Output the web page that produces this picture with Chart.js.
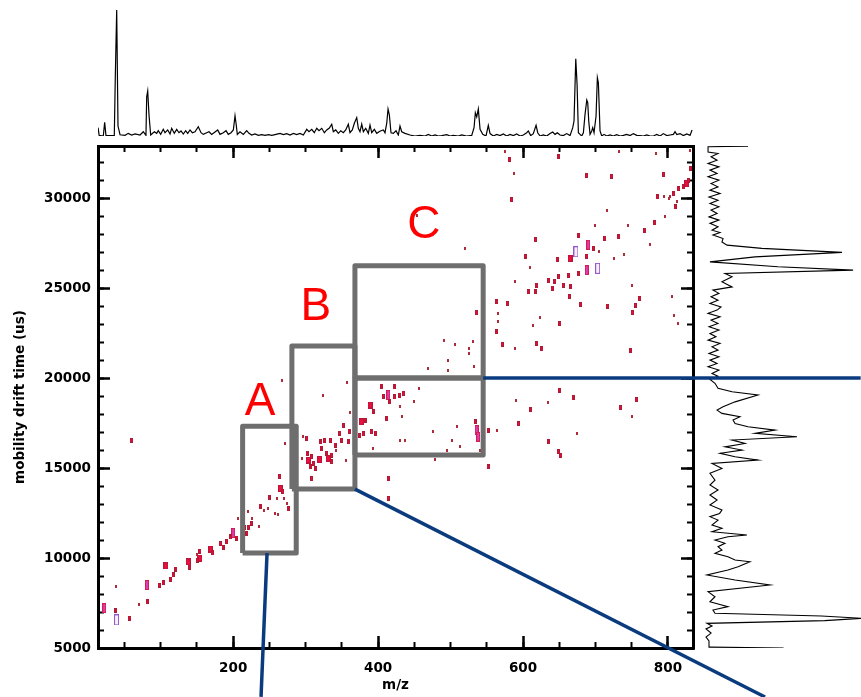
<!DOCTYPE html>
<html>
<head>
<meta charset="utf-8">
<script src="https://cdn.jsdelivr.net/npm/chart.js@4/dist/chart.umd.min.js"></script>
<style>
  html, body { margin: 0; padding: 0; background: #fff; }
  #wrap { position: relative; width: 861px; height: 697px; overflow: hidden; background: #fff; }
  canvas { position: absolute; top: 0; }
  #spectrum { left: 0; z-index: 1; }
  #mobilogram { left: 693px; z-index: 1; }
  #map { left: 0; z-index: 2; }
</style>
</head>
<body>
<div id="wrap">
  <canvas id="spectrum" width="861" height="146"></canvas>
  <canvas id="mobilogram" width="168" height="697"></canvas>
  <canvas id="map" width="861" height="697"></canvas>
</div>
<script>
// ---- axis ranges and ticks ---------------------------------------------------
const MZ_MIN = 13.4, MZ_MAX = 834.6;
const DT_MIN = 5000, DT_MAX = 32900;
const mzTicks = [200, 400, 600, 800];
const driftTicks = [5000, 10000, 15000, 20000, 25000, 30000];
const MZ_MINOR_STEP = 50, DT_MINOR_STEP = 1000;

// ---- 2D map: detected features [m/z, drift time (us)] by intensity class ----
const spotsWeak = [
  [38,8440],[70,7440],[150,10220],[206,12210],[221,12570],[226,12210],[235,11740],[242,12640],
  [248,12760],[258,12480],[262,12440],[272,16360],[270,13320],[274,13040],[267,19890],[324,19060],
  [357,19740],[260,13320],[295,15540],[342,16000],[356,15440],[361,18070],[296,16780],[430,18410],
  [449,18680],[456,19430],[433,17850],[393,16100],[430,16560],[437,16520],[476,17020],[495,16000],
  [502,16560],[509,17300],[513,16180],[564,17110],[540,16000],[479,15480],[454,29060],[520,27210],
  [491,22070],[506,21890],[531,22020],[525,21650],[525,21370],[497,21000],[497,20440],[469,20540],
  [533,20670],[575,32570],[587,31370],[732,32570],[784,32480],[831,32670],[803,30070],[794,30070],
  [812,29800],[801,29980],[716,29330],[796,28960],[745,28500],[699,28500],[775,27410],[739,26850],
  [725,26650],[705,27020],[610,26150],[750,25170],[805,24520],[809,23500],[814,23040],[589,25390],
  [566,23600],[566,23130],[614,22950],[623,23370],[589,21650],[635,18650],[590,18780],[675,16930],
  [751,17850]
];
const spotsMid = [
  [38,7070],[57,6650],[82,7560],[98,8500],[104,8630],[113,8780],[117,9060],[121,9390],[140,9500],
  [151,9890],[154,10390],[171,10280],[182,10810],[186,10610],[191,10910],[196,11170],[205,11110],
  [215,11720],[219,11370],[221,11720],[225,11940],[237,12890],[250,13390],[264,14530],[268,13680],
  [277,12760],[59,16560],[301,16650],[302,15820],[306,15070],[308,15630],[313,14980],[311,15260],
  [320,16460],[326,16560],[322,16100],[329,15820],[336,15720],[336,15350],[334,16560],[341,16280],
  [347,16930],[352,17390],[350,16560],[359,16460],[360,17020],[308,14430],[382,17670],[380,16930],
  [375,16830],[394,18130],[391,17020],[405,19520],[407,18960],[416,18680],[422,19520],[423,18960],
  [430,19060],[435,19150],[412,17760],[396,16930],[534,17570],[552,17110],[552,15070],[414,14430],
  [414,13320],[536,23630],[582,32150],[584,29930],[649,32300],[688,31280],[722,31220],[794,31330],
  [831,31650],[828,31000],[821,30630],[814,30540],[808,30260],[785,30070],[810,29520],[782,28630],
  [768,28220],[732,27850],[713,27760],[676,27950],[697,27210],[688,26740],[647,26600],[617,27710],
  [604,26780],[676,25820],[663,25720],[649,25630],[644,25350],[635,25440],[619,25170],[607,24800],
  [617,24800],[640,24980],[656,25170],[665,25070],[664,24520],[679,24110],[716,24000],[761,24430],
  [755,24060],[751,23630],[564,24240],[578,24150],[564,22610],[651,23040],[619,21930],[626,21650],
  [571,21890],[748,21520],[650,19330],[669,18930],[610,18280],[594,17480],[635,16460],[649,15910],
  [652,15720],[734,18370],[757,18820]
];
const spotsStrong = [
  [107,9560],[138,9780],[154,10000],[169,10500],[265,13860],[304,15440],[319,15480],[331,15540],
  [377,17570],[389,18500],[826,30820],[665,26650]
];
const spotsApex = [
  [22,7220],[81,8500],[200,11390],[414,19060],[536,17110],[538,16740],[690,27410],[688,26000]
];
const spotsSaturated = [
  [39,6560],[673,27020],[703,26100]
];

// ---- selected regions [m/z lo, m/z hi, drift lo, drift hi] ----
const regionNames = ['A', 'B', 'C'];
const regionA = [213, 287, 10280, 17330];
const regionB = [281, 368, 13830, 21780];
const regionCLow = [368, 545, 15720, 20000];
const regionCHigh = [368, 545, 20000, 26240];
const regionTagMz = [237, 314, 463];
const regionTagDrift = [17940, 23220, 27780];

// leader lines towards the expanded views [m/z, drift]
const leaderA = [[246.7, 10280], [238.4, 2280]];
const leaderB = [[368, 13830], [934, 2280]];
const leaderC = [[545, 20000], [1066, 20000]];

// ---- summed mass spectrum [m/z, relative intensity %] ----
const mzSpectrum = [
  [13.5,6.6],[15,0.5],[20.7,0],[22.6,10.8],[24.4,0.3],[35.9,0.5],[37.3,47.6],[39.2,100],[41,7.9],[43.8,1],
  [50.7,0.5],[55.2,2.1],[59.9,0.8],[64.5,1.6],[71.4,0.8],[75.9,3.4],[79.6,0.5],[80.6,31.2],[82,35.7],[83.8,16.7],
  [86.1,0.8],[91.1,3.4],[94.4,2.1],[96.6,4.2],[99.9,1.3],[103.5,5.3],[105.9,2.6],[109.6,4.8],[112.8,1.6],[115.1,6.1],
  [118.7,2.1],[122,5.3],[125.2,2.6],[128,4],[131.1,1.6],[134.4,4.2],[137.2,2.1],[140.4,4.8],[143.6,2.6],[147.3,3.4],
  [151.8,7.4],[155.6,2.6],[158.7,1.3],[163.4,2.6],[166.6,3.4],[170.3,1.3],[174.9,3.2],[178.6,4.8],[181.8,1.3],[186.3,2.6],
  [190.1,4.2],[193.2,1.3],[197,2.6],[200.2,4.8],[202.5,16.1],[203.9,10.1],[205.7,1.3],[209.4,3.4],[214,1.3],[218.6,4.2],
  [221.8,2.1],[225.5,0.8],[230.1,1.6],[234.7,0.5],[239.4,1.1],[243.9,0.5],[248.5,1.1],[253.2,0.5],[257.7,1.1],[264.6,2.1],
  [269.2,1.1],[273.9,1.9],[278.4,0.8],[283,2.1],[287.7,1.1],[292.2,2.1],[296.8,0.8],[301.5,5.3],[304.6,3.4],[308.4,5.3],
  [311.9,2.6],[315.3,6.1],[318.4,4.2],[322.2,6.1],[325.8,2.6],[329.1,4.8],[332.7,6.3],[336,9.3],[338.2,3.4],[341.5,4.8],
  [345.1,2.1],[348.4,4.2],[352,2.6],[355.3,4.8],[358.9,9.3],[361.2,2.6],[364.4,4.8],[367.2,10.1],[370.5,14.6],[372.7,6.1],
  [375,3.4],[377.4,9.5],[379.6,3.4],[382.9,6.1],[386.5,2.1],[388.8,8.7],[391.2,2.6],[394.8,5.3],[398.1,2.1],[401.3,3.4],
  [404,4.2],[407.2,4.8],[409.5,2.6],[411.9,10.1],[413.7,21.4],[415.5,16.7],[417.8,2.6],[421,2.1],[424.7,4.2],[427.9,0.8],
  [430.2,7.9],[432.6,3.4],[437.1,2.1],[444,0.8],[450.9,0],[457.8,0.5],[464.8,0],[469.3,1.3],[474,0],[478.6,0.8],
  [483.1,0],[487.8,0.3],[494.7,1.1],[499.3,0],[503.8,0.5],[510.7,0],[515.4,0.8],[522.3,0],[529.2,0.5],[532.4,6.6],
  [534.2,18.5],[536.1,15.1],[538.3,21.4],[540.7,5.3],[544.4,1.3],[548.9,0],[552.1,8.5],[554.5,1.9],[559,0],[563.7,1.3],
  [568.3,0.3],[572.8,1.6],[577.5,0],[582.1,1.3],[586.6,0.3],[591.3,1.6],[595.9,0],[600.4,0.8],[605.1,2.6],[607.3,4],
  [610.6,0.3],[614.2,1.9],[618,8.5],[620.3,2.6],[623.5,0],[628,0.8],[632.7,0],[637.3,1.9],[641,3.2],[644.2,1.3],
  [647.4,2.6],[651.1,0.8],[655.6,0.3],[660.3,1.9],[664.9,0.3],[668.6,6.6],[670.4,11.9],[672.8,61.4],[674.6,41],[676.4,2.6],
  [678.7,1.3],[681,0],[683.3,2.6],[685.6,17.2],[688,28.6],[689.3,26.5],[690.7,11.9],[692.5,1.3],[694.8,4],[696.2,6.6],
  [698,2.6],[700.8,15.9],[702.6,46.3],[704,42.3],[706.3,4],[708.7,0],[711.8,1.3],[715.5,0],[720.1,0.8],[724.7,0],
  [729.3,1.1],[733.9,0],[738.5,0.5],[743.2,1.3],[747.7,0.3],[752.3,1.9],[757,0.5],[761.5,0.3],[766.1,0],[770.8,0.8],
  [775.3,0],[779.9,0],[784.6,1.3],[789.1,0],[793.7,1.9],[798.4,0.3],[802.9,0.8],[807.5,1.3],[809.8,3.4],[812.2,1.1],
  [816.7,1.9],[821.3,0.3],[826,1.6],[830.5,0.5],[833.3,4.8],[834.5,4.8]
];

// ---- summed mobilogram [drift time (us), relative intensity %] ----
const driftProfile = [
  [5000,51],[5050,4.4],[5390,3.8],[5610,1.9],[5830,5.1],[6060,1.9],[6220,5.7],[6370,2.5],[6520,77],[6650,101],
  [6780,75],[6930,7.6],[7110,6.3],[7300,15.8],[7570,4.4],[7850,7.6],[8130,3.2],[8500,42.4],[8780,20.3],[9060,2.5],
  [9330,15.8],[9520,22.2],[9790,29.7],[9890,20.3],[10070,15.8],[10260,7.6],[10440,12],[10630,9.5],[10820,13.9],[11000,7.6],
  [11180,15.8],[11280,27.8],[11460,5.7],[11650,12],[11830,5.7],[12110,9.5],[12300,4.4],[12480,10.5],[12670,12],[12950,4.4],
  [13220,8.9],[13500,4.4],[13780,9.5],[14060,4.4],[14330,7.6],[14710,4.4],[14980,12],[15260,5.7],[15440,34.8],[15630,20.3],
  [15820,10.8],[16000,24.7],[16180,13.9],[16370,26.6],[16560,18.4],[16740,59.5],[16930,32.9],[17110,45.6],[17300,28.5],[17480,20.3],
  [17670,19],[17850,23.4],[18040,12],[18220,8.9],[18410,12.7],[18680,20.3],[19060,34.8],[19240,18.4],[19430,9.5],[19710,7.6],
  [19930,4.4],[20100,9.5],[20260,5.7],[20450,10.1],[20630,3.2],[20810,8.9],[21000,4.4],[21190,10.1],[21370,3.8],[21560,9.5],
  [21740,5.7],[21930,10.8],[22110,3.2],[22300,8.2],[22480,4.4],[22670,10.1],[22850,3.8],[23040,9.5],[23220,5.1],[23410,10.8],
  [23600,3.2],[23780,8.9],[23960,11.4],[24150,4.4],[24330,9.5],[24520,5.1],[24710,10.1],[24890,6.3],[25070,18.4],[25350,12],
  [25630,18.4],[25820,13.9],[26000,95],[26190,47.5],[26460,4.4],[26740,32.9],[26990,88],[27210,37.3],[27390,15.2],[27570,12],
  [27760,12.7],[27950,6.3],[28090,10.8],[28220,5.7],[28410,9.5],[28600,4.4],[28780,10.1],[28960,3.8],[29150,8.9],[29340,5.1],
  [29520,10.1],[29710,4.4],[29890,9.5],[30070,3.8],[30260,10.8],[30450,4.4],[30630,9.5],[30820,5.1],[31000,10.1],[31190,3.2],
  [31370,8.9],[31560,4.4],[31740,10.1],[31930,3.2],[32110,8.9],[32300,5.1],[32480,9.5],[32570,3.2],[32860,3.2],[32890,28.5]
];

// ---- styling --------------------------------------------------------------
const axisFont = { family: 'DejaVu Sans', size: 13.5, weight: 'bold' };
const GRAY = '#6e6e6e', NAVY = '#0a3b7f';
const EDGE = { left: 98, bottom: 49, top: 146, right: 168 };

function stepsWithin(min, max, step) {
  const out = [];
  for (let v = Math.ceil(min / step) * step; v <= max; v += step) out.push(v);
  return out;
}
const mzMinorTicks = stepsWithin(MZ_MIN, MZ_MAX, MZ_MINOR_STEP);
const driftMinorTicks = stepsWithin(DT_MIN, DT_MAX, DT_MINOR_STEP);

function spotImage(w, h, edge, fill) {
  const c = document.createElement('canvas');
  c.width = w; c.height = h;
  const g = c.getContext('2d');
  g.fillStyle = edge; g.fillRect(0, 0, w, h);
  if (fill) { g.fillStyle = fill; g.fillRect(1, 1, w - 2, h - 2); }
  return c;
}
const spotStyle = {
  weak: spotImage(2, 3, '#b02a38'),
  mid: spotImage(3, 5, '#b01a34', '#e4103a'),
  strong: spotImage(5, 7, '#b8163a', '#ea0f3e'),
  apex: spotImage(4, 10, '#d01e50', '#e03cb4'),
  saturated: spotImage(5, 11, '#9457cc', '#f6eef8')
};

const toXY = (arr) => arr.map(([x, y]) => ({ x, y }));
const rectPath = ([x0, x1, y0, y1]) => [[x0, y0], [x0, y1], [x1, y1], [x1, y0], [x0, y0]];

function spotSet(label, arr, img) {
  return { label, data: toXY(arr), pointStyle: img, pointRadius: 2, showLine: false, order: 3 };
}
function boxSet(label, region) {
  return { label, data: toXY(rectPath(region)), showLine: true, borderColor: GRAY, borderWidth: 5,
    borderJoinStyle: 'round', pointRadius: 0, fill: false, order: 2 };
}
function leaderSet(label, pts) {
  return { label, data: toXY(pts), showLine: true, borderColor: NAVY, borderWidth: 3.5,
    pointRadius: 0, fill: false, clip: false, order: 1 };
}

// one side of the frame: major (optionally labelled) or minor ticks, pointing inward
function sideScale(position, min, max, values, major, extra) {
  const base = {
    type: 'linear', position, min, max, bounds: 'data', weight: major ? 1 : 0,
    afterBuildTicks: (s) => { s.ticks = values.map((value) => ({ value })); },
    afterFit: (s) => {
      const px = major ? EDGE[position] : 0;
      if (s.isHorizontal()) s.height = px; else s.width = px;
    },
    border: { display: major, color: '#000', width: 3 },
    grid: { drawOnChartArea: false, drawTicks: true, tickLength: major ? -12 : -6,
      tickWidth: major ? 2.5 : 2, tickColor: '#000' },
    ticks: { display: false }
  };
  return Object.assign(base, extra || {});
}
const labelTicks = (padding) => ({
  display: true, padding, color: '#000', font: axisFont, maxRotation: 0, autoSkip: false,
  callback: (v) => String(v)
});

const regionTags = {
  id: 'regionTags',
  afterDatasetsDraw(chart) {
    const { ctx } = chart;
    const xs = chart.scales.x, ys = chart.scales.y;
    ctx.save();
    ctx.fillStyle = '#ff0000';
    ctx.font = '46px "Liberation Sans", Arial, sans-serif';
    ctx.textAlign = 'center';
    ctx.textBaseline = 'alphabetic';
    regionNames.forEach((t, i) => {
      ctx.fillText(t, xs.getPixelForValue(regionTagMz[i]), ys.getPixelForValue(regionTagDrift[i]));
    });
    ctx.restore();
  }
};

const common = { responsive: false, animation: false, events: [], devicePixelRatio: 1 };

// ---- mobility / mass map ---------------------------------------------------
new Chart(document.getElementById('map'), {
  type: 'scatter',
  data: {
    datasets: [
      spotSet('weak', spotsWeak, spotStyle.weak),
      spotSet('medium', spotsMid, spotStyle.mid),
      spotSet('strong', spotsStrong, spotStyle.strong),
      spotSet('apex', spotsApex, spotStyle.apex),
      spotSet('saturated', spotsSaturated, spotStyle.saturated),
      boxSet('A', regionA),
      boxSet('B', regionB),
      boxSet('C low', regionCLow),
      boxSet('C high', regionCHigh),
      leaderSet('to A', leaderA),
      leaderSet('to B', leaderB),
      leaderSet('to C', leaderC)
    ]
  },
  options: Object.assign({}, common, {
    layout: { padding: 0, autoPadding: false },
    plugins: { legend: { display: false }, tooltip: { enabled: false } },
    scales: {
      x: sideScale('bottom', MZ_MIN, MZ_MAX, mzTicks, true, {
        ticks: labelTicks(24),
        title: { display: true, text: 'm/z', color: '#000', font: axisFont, padding: { top: 0, bottom: 3 } }
      }),
      xMinor: sideScale('bottom', MZ_MIN, MZ_MAX, mzMinorTicks, false),
      xTop: sideScale('top', MZ_MIN, MZ_MAX, mzTicks, true),
      xTopMinor: sideScale('top', MZ_MIN, MZ_MAX, mzMinorTicks, false),
      y: sideScale('left', DT_MIN, DT_MAX, driftTicks, true, {
        ticks: labelTicks(19),
        title: { display: true, text: 'mobility drift time (us)', color: '#000', font: axisFont,
          padding: { top: 12, bottom: 0 } }
      }),
      yMinor: sideScale('left', DT_MIN, DT_MAX, driftMinorTicks, false),
      yRight: sideScale('right', DT_MIN, DT_MAX, driftTicks, true),
      yRightMinor: sideScale('right', DT_MIN, DT_MAX, driftMinorTicks, false)
    }
  }),
  plugins: [regionTags]
});

// ---- summed spectrum above the map ------------------------------------------
new Chart(document.getElementById('spectrum'), {
  type: 'scatter',
  data: { datasets: [{ data: toXY(mzSpectrum), showLine: true, borderColor: '#000', borderWidth: 1.2,
    pointRadius: 0, tension: 0, fill: false }] },
  options: Object.assign({}, common, {
    layout: { padding: { left: 98, right: 168, top: 4, bottom: 10 } },
    plugins: { legend: { display: false }, tooltip: { enabled: false } },
    scales: {
      x: { type: 'linear', min: MZ_MIN, max: MZ_MAX, display: false },
      y: { type: 'linear', min: 0, max: 104.8, display: false }
    }
  })
});

// ---- summed mobilogram right of the map -------------------------------------
new Chart(document.getElementById('mobilogram'), {
  type: 'scatter',
  data: { datasets: [{ data: driftProfile.map(([t, v]) => ({ x: v, y: t })), showLine: true,
    borderColor: '#000', borderWidth: 1.1, pointRadius: 0, tension: 0, fill: false }] },
  options: Object.assign({}, common, {
    layout: { padding: { left: 10, right: 0, top: 146, bottom: 49 } },
    plugins: { legend: { display: false }, tooltip: { enabled: false } },
    scales: {
      x: { type: 'linear', min: 0, max: 100, display: false },
      y: { type: 'linear', min: DT_MIN, max: DT_MAX, display: false }
    }
  })
});
</script>
</body>
</html>
